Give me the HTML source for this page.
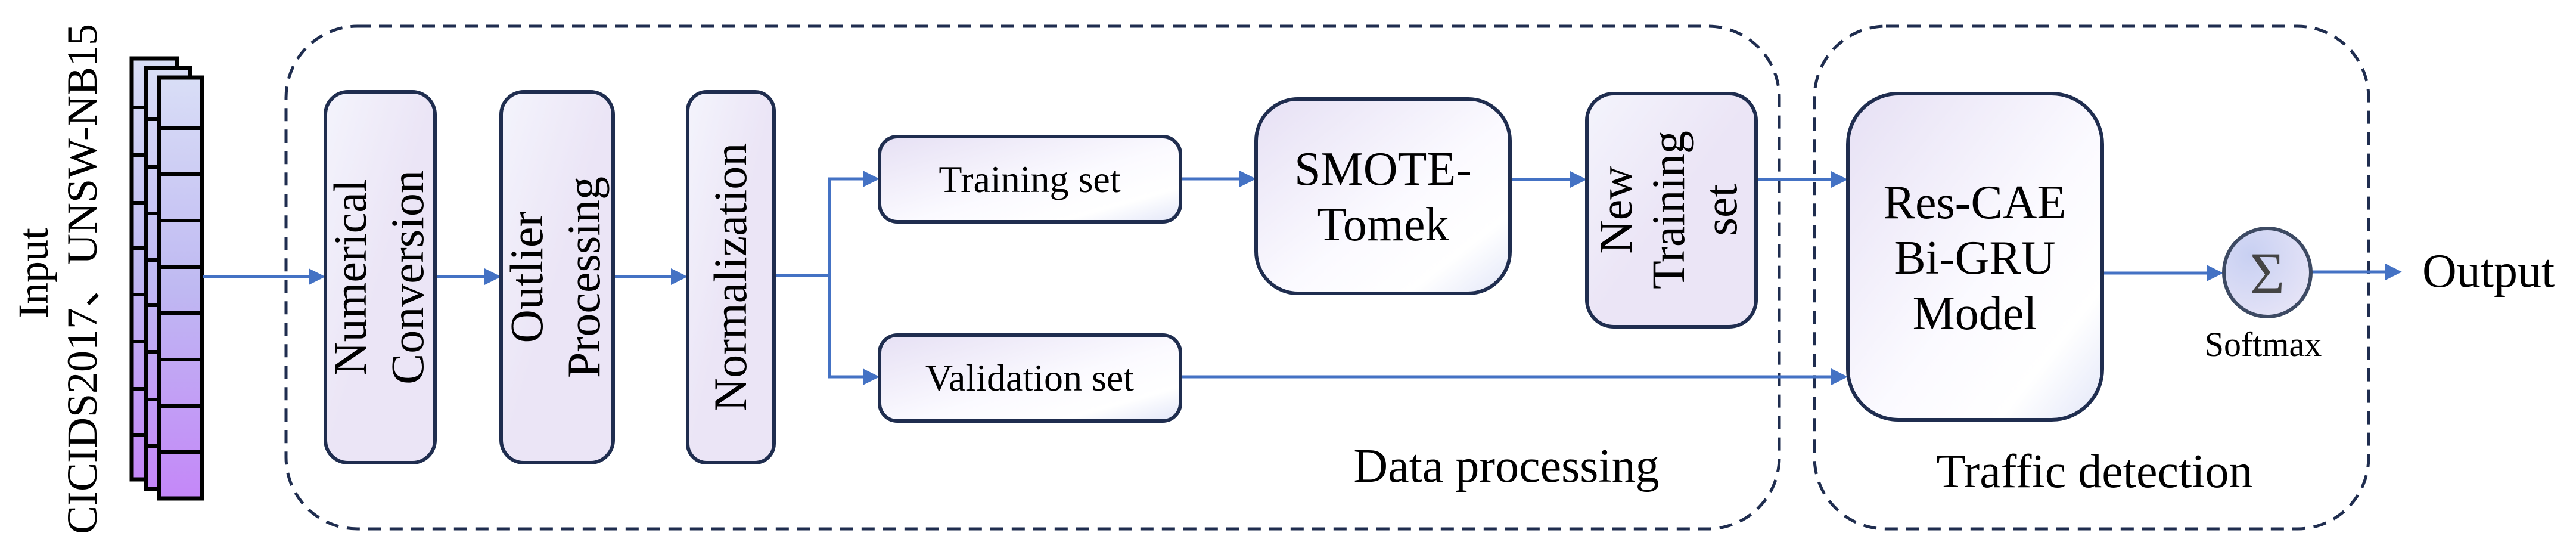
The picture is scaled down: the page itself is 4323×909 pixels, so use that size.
<!DOCTYPE html>
<html><head><meta charset="utf-8"><style>html,body{margin:0;padding:0;background:#fff}svg{display:block}</style></head>
<body>
<svg width="4323" height="909" viewBox="0 0 4323 909" xmlns="http://www.w3.org/2000/svg" font-family="'Liberation Serif', serif">
<defs>
<linearGradient id="g" x1="0" y1="0" x2="1" y2="1">
<stop offset="0" stop-color="#e6e0f4"/><stop offset="0.55" stop-color="#fbfaff"/><stop offset="0.8" stop-color="#ffffff"/><stop offset="1" stop-color="#e2e6f8"/>
</linearGradient>
<linearGradient id="gv" x1="0" y1="0" x2="1" y2="1">
<stop offset="0" stop-color="#f4f4fc"/><stop offset="0.5" stop-color="#ebe5f6"/><stop offset="1" stop-color="#ebe5f6"/>
</linearGradient>
<linearGradient id="st" x1="0" y1="0" x2="0" y2="1">
<stop offset="0" stop-color="#d9def6"/><stop offset="0.5" stop-color="#bfb9f2"/><stop offset="1" stop-color="#c487f8"/>
</linearGradient>
<radialGradient id="cg" cx="0.3" cy="0.3" r="0.8"><stop offset="0" stop-color="#c8d0f2"/><stop offset="1" stop-color="#e6e4f7"/></radialGradient>
<marker id="a" markerWidth="10" markerHeight="10" refX="9" refY="5" orient="auto" markerUnits="userSpaceOnUse" viewBox="0 0 10 10">
</marker>
</defs>
<g fill="none" stroke="#1f2d4f" stroke-width="5" stroke-dasharray="22,14">
<rect x="480" y="44" width="2506" height="843" rx="120"/>
<rect x="3045" y="44" width="930" height="843" rx="120"/>
</g>
<!-- input stack -->
<g stroke="#000" stroke-width="7" fill="url(#st)">
<rect x="221" y="98" width="76" height="706"/>
<rect x="245" y="114" width="74" height="706"/>
<rect x="267" y="130" width="72" height="706"/>
</g>
<g stroke="#000" stroke-width="6">
<line x1="221" y1="180" x2="245" y2="180"/><line x1="221" y1="260" x2="245" y2="260"/><line x1="221" y1="340" x2="245" y2="340"/><line x1="221" y1="416" x2="245" y2="416"/><line x1="221" y1="494" x2="245" y2="494"/><line x1="221" y1="573" x2="245" y2="573"/><line x1="221" y1="652" x2="245" y2="652"/><line x1="221" y1="730" x2="245" y2="730"/>
<line x1="245" y1="200" x2="267" y2="200"/><line x1="245" y1="280" x2="267" y2="280"/><line x1="245" y1="358" x2="267" y2="358"/><line x1="245" y1="436" x2="267" y2="436"/><line x1="245" y1="512" x2="267" y2="512"/><line x1="245" y1="590" x2="267" y2="590"/><line x1="245" y1="670" x2="267" y2="670"/><line x1="245" y1="748" x2="267" y2="748"/>
<line x1="267" y1="215" x2="339" y2="215"/><line x1="267" y1="292" x2="339" y2="292"/><line x1="267" y1="370" x2="339" y2="370"/><line x1="267" y1="448" x2="339" y2="448"/><line x1="267" y1="525" x2="339" y2="525"/><line x1="267" y1="603" x2="339" y2="603"/><line x1="267" y1="681" x2="339" y2="681"/><line x1="267" y1="758" x2="339" y2="758"/>
</g>
<text transform="translate(80,458) rotate(-90)" font-size="72" text-anchor="middle">Input</text>
<text transform="translate(162,468) rotate(-90)" font-size="72" text-anchor="middle">CICIDS2017、UNSW-NB15</text>
<!-- connectors -->
<g stroke="#4472c4" stroke-width="5" fill="none">
<line x1="341" y1="464" x2="520" y2="464"/>
<line x1="730" y1="464" x2="815" y2="464"/>
<line x1="1029" y1="464" x2="1128" y2="464"/>
<polyline points="1299,462 1392,462"/>
<polyline points="1450,300 1392,300 1392,632 1450,632"/>
<line x1="1981" y1="300" x2="2082" y2="300"/>
<line x1="2534" y1="301" x2="2637" y2="301"/>
<line x1="2947" y1="301" x2="3075" y2="301"/>
<line x1="1981" y1="632" x2="3075" y2="632"/>
<line x1="3528" y1="458" x2="3705" y2="458"/>
<line x1="3880" y1="456" x2="4005" y2="456"/>
</g>
<g fill="#4472c4">
<polygon points="518,450 546,464 518,478"/>
<polygon points="813,450 841,464 813,478"/>
<polygon points="1126,450 1154,464 1126,478"/>
<polygon points="1448,286 1476,300 1448,314"/>
<polygon points="1448,618 1476,632 1448,646"/>
<polygon points="2080,286 2108,300 2080,314"/>
<polygon points="2635,287 2663,301 2635,315"/>
<polygon points="3073,287 3101,301 3073,315"/>
<polygon points="3073,618 3101,632 3073,646"/>
<polygon points="3703,444 3731,458 3703,472"/>
<polygon points="4003,442 4031,456 4003,470"/>
</g>
<!-- boxes -->
<g stroke="#1f2d4f" stroke-width="6">
<rect x="546" y="154" width="184" height="622" rx="38" fill="url(#gv)"/>
<rect x="841" y="154" width="188" height="622" rx="38" fill="url(#gv)"/>
<rect x="1154" y="154" width="145" height="622" rx="32" fill="url(#gv)"/>
<rect x="1476" y="229" width="505" height="143" rx="30" fill="url(#g)"/>
<rect x="1476" y="562" width="505" height="144" rx="30" fill="url(#g)"/>
<rect x="2108" y="166" width="426" height="326" rx="70" fill="url(#g)"/>
<rect x="2663" y="157" width="284" height="391" rx="45" fill="url(#gv)"/>
<rect x="3101" y="157" width="427" height="547" rx="85" fill="url(#g)"/>
</g>
<ellipse cx="3805" cy="457" rx="73" ry="74" fill="url(#cg)" stroke="#3d4a63" stroke-width="6"/>
<text x="3805" y="492" font-size="100" text-anchor="middle" fill="#444">Σ</text>
<!-- labels -->
<g font-size="78" text-anchor="middle" fill="#000">
<text transform="translate(614,465) rotate(-90)">Numerical</text>
<text transform="translate(710,465) rotate(-90)">Conversion</text>
<text transform="translate(910,465) rotate(-90)">Outlier</text>
<text transform="translate(1006,465) rotate(-90)">Processing</text>
<text transform="translate(1252,465) rotate(-90)">Normalization</text>
<text transform="translate(2738,352) rotate(-90)">New</text>
<text transform="translate(2826,352) rotate(-90)">Training</text>
<text transform="translate(2914,352) rotate(-90)">set</text>
</g>
<g font-size="64" text-anchor="middle" fill="#000">
<text x="1728" y="322">Training set</text>
<text x="1728" y="655">Validation set</text>
</g>
<g font-size="80" text-anchor="middle" fill="#000">
<text x="2321" y="310">SMOTE-</text>
<text x="2321" y="403">Tomek</text>
<text x="3314" y="366">Res-CAE</text>
<text x="3314" y="459">Bi-GRU</text>
<text x="3314" y="552">Model</text>
<text x="2528" y="808">Data processing</text>
<text x="3515" y="817">Traffic detection</text>
</g>
<text x="3798" y="597" font-size="58" text-anchor="middle">Softmax</text>
<text x="4065" y="481" font-size="80">Output</text>
</svg>
</body></html>
